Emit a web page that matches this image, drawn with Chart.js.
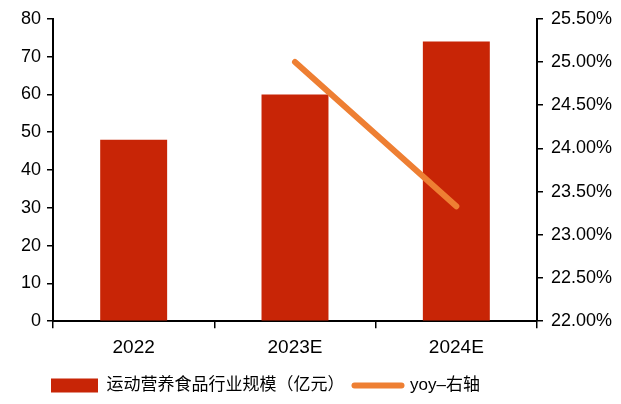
<!DOCTYPE html>
<html lang="zh">
    <head>
        <meta charset="utf-8" />
        <script src="https://cdn.jsdelivr.net/npm/chart.js@4.4.1/dist/chart.umd.min.js"></script>
        <title>运动营养食品行业规模</title>
        <style>
            html, body { margin: 0; padding: 0; background: #fff; }
            #grafico { width: 621px; height: 404px; }
        </style>
    </head>
    <body>
        <div id="grafico"><canvas id="miGrafico"></canvas></div>
        <script>
            // años y valores
            const anios = ["2022", "2023E", "2024E"];
            const escala = [48, 60, 74];          // 亿元
            const yoy = [null, 25.0, 23.33];      // %
            const nombreBarras = "运动营养食品行业规模（亿元）";
            const nombreLinea = "yoy–右轴";

            const fuente = "'Liberation Sans', 'Noto Sans CJK SC', sans-serif";
            Chart.defaults.font.family = fuente;
            Chart.defaults.font.size = 17;
            Chart.defaults.color = "#000";

            // mueve la leyenda un poco a la derecha
            const moverLeyenda = {
                id: "moverLeyenda",
                afterLayout(chart) {
                    chart.legend.left = 41;
                }
            };

            new Chart(document.getElementById("miGrafico").getContext("2d"), {
                data: {
                    labels: anios,
                    datasets: [
                        {
                            type: "line",
                            label: nombreLinea,
                            data: yoy,
                            yAxisID: "y2",
                            borderColor: "#EE7F33",
                            backgroundColor: "#EE7F33",
                            borderWidth: 6,
                            borderCapStyle: "round",
                            pointRadius: 0,
                            order: 0
                        },
                        {
                            type: "bar",
                            label: nombreBarras,
                            data: escala,
                            yAxisID: "y",
                            backgroundColor: "#C82506",
                            barPercentage: 0.415,
                            categoryPercentage: 1,
                            order: 1
                        }
                    ]
                },
                options: {
                    responsive: true,
                    maintainAspectRatio: false,
                    animation: false,
                    layout: { padding: { top: 9, left: 0, right: 0, bottom: 0 } },
                    plugins: {
                        tooltip: { enabled: false },
                        legend: {
                            position: "bottom",
                            align: "start",
                            labels: {
                                usePointStyle: true,
                                pointStyleWidth: 47,
                                boxHeight: 14,
                                padding: 10,
                                font: { size: 17 },
                                sort: (a, b) => b.datasetIndex - a.datasetIndex,
                                generateLabels(chart) {
                                    const items = Chart.defaults.plugins.legend.labels.generateLabels(chart);
                                    items.forEach(it => {
                                        if (it.datasetIndex === 1) {
                                            it.pointStyle = "rect";
                                            it.lineWidth = 0;
                                            it.fillStyle = "#C82506";
                                        } else {
                                            it.pointStyle = "line";
                                            it.strokeStyle = "#EE7F33";
                                            it.lineWidth = 6;
                                            it.lineCap = "round";
                                        }
                                    });
                                    return items;
                                }
                            }
                        }
                    },
                    scales: {
                        x: {
                            offset: true,
                            grid: {
                                offset: true,
                                drawOnChartArea: false,
                                drawTicks: true,
                                tickLength: 7,
                                color: "#000",
                                lineWidth: 1.5
                            },
                            border: { color: "#000", width: 2 },
                            ticks: { padding: 8, font: { size: 19 } }
                        },
                        y: {
                            position: "left",
                            min: 0,
                            max: 80,
                            ticks: { stepSize: 10, padding: 6, font: { size: 18 } },
                            grid: {
                                drawOnChartArea: false,
                                tickLength: 6,
                                color: "#000",
                                lineWidth: 1.5
                            },
                            border: { color: "#000", width: 2 },
                            afterFit(scale) { scale.width = 53; }
                        },
                        y2: {
                            position: "right",
                            min: 22,
                            max: 25.5,
                            ticks: {
                                stepSize: 0.5,
                                padding: 8,
                                font: { size: 18 },
                                callback: v => v.toFixed(2) + "%"
                            },
                            grid: {
                                drawOnChartArea: false,
                                tickLength: 6,
                                color: "#000",
                                lineWidth: 1.5
                            },
                            border: { color: "#000", width: 2 },
                            afterFit(scale) { scale.width = 84; }
                        }
                    }
                },
                plugins: [moverLeyenda]
            });
        </script>
    </body>
</html>
